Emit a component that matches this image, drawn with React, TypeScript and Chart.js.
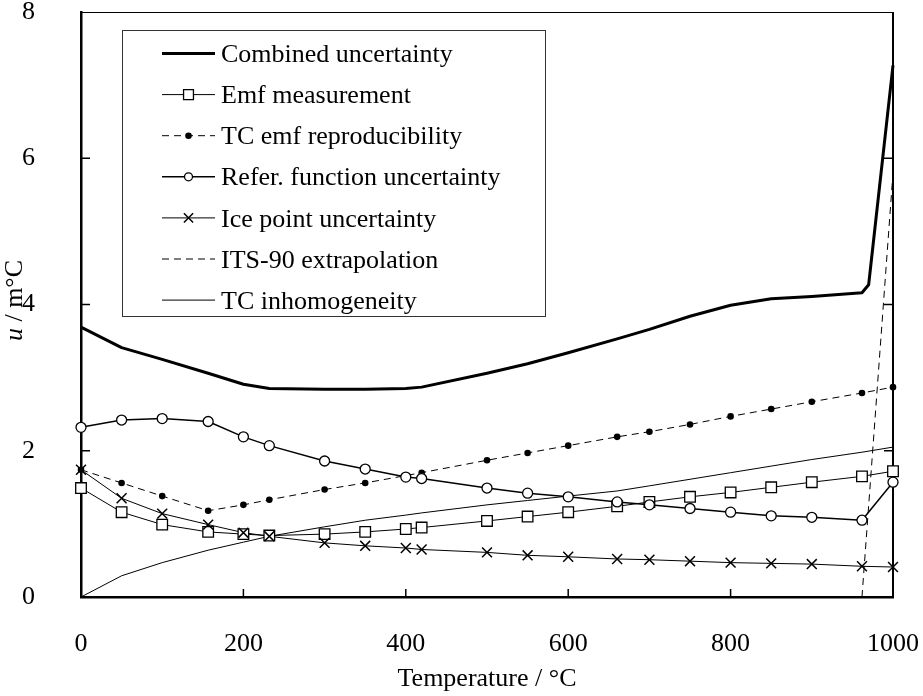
import React, { useEffect, useRef } from 'react';
import { Chart, registerables } from 'chart.js';

Chart.register(...registerables);

// ---- data ----
const temperatures = [0, 50, 100, 156.6, 200, 231.9, 300, 350, 400, 419.5, 500, 550, 600, 660.3, 700, 750, 800, 850, 900, 961.8, 1000];

const combinedTemps = [0, 50, 100, 156.6, 200, 231.9, 300, 350, 400, 419.5, 500, 550, 600, 660.3, 700, 750, 800, 850, 900, 961.8, 970, 1000];
const combinedValues = [3.69, 3.41, 3.25, 3.06, 2.91, 2.85, 2.84, 2.84, 2.85, 2.87, 3.06, 3.19, 3.34, 3.53, 3.66, 3.84, 3.99, 4.08, 4.11, 4.16, 4.27, 7.27];

const emfValues = [1.49, 1.16, 0.99, 0.89, 0.86, 0.84, 0.86, 0.89, 0.93, 0.95, 1.04, 1.10, 1.16, 1.24, 1.30, 1.37, 1.43, 1.50, 1.57, 1.65, 1.72];
const reproValues = [1.74, 1.56, 1.38, 1.18, 1.26, 1.33, 1.47, 1.56, 1.66, 1.70, 1.87, 1.97, 2.07, 2.19, 2.26, 2.36, 2.47, 2.57, 2.67, 2.79, 2.87];
const refFnValues = [2.32, 2.42, 2.44, 2.40, 2.19, 2.07, 1.86, 1.75, 1.64, 1.62, 1.49, 1.42, 1.37, 1.30, 1.26, 1.21, 1.16, 1.11, 1.09, 1.05, 1.57];
const iceValues = [1.74, 1.35, 1.14, 0.99, 0.88, 0.83, 0.74, 0.70, 0.67, 0.65, 0.61, 0.57, 0.55, 0.52, 0.51, 0.49, 0.47, 0.46, 0.45, 0.42, 0.41];
const its90Temps = [961.8, 1000];
const its90Values = [0, 5.8];
const inhomValues = [0, 0.29, 0.47, 0.64, 0.75, 0.83, 0.96, 1.05, 1.12, 1.15, 1.26, 1.32, 1.38, 1.45, 1.52, 1.61, 1.70, 1.79, 1.88, 1.98, 2.05];

const legendLabels = [
  'Combined uncertainty',
  'Emf measurement',
  'TC emf reproducibility',
  'Refer. function uncertainty',
  'Ice point uncertainty',
  'ITS-90 extrapolation',
  'TC inhomogeneity',
];

const xTickValues = [0, 200, 400, 600, 800, 1000];
const yTickValues = [0, 2, 4, 6, 8];
const xTitle = 'Temperature / °C';
const yTitleItalic = 'u';
const yTitleRest = ' / m°C';

const FONT_FAMILY = '"Liberation Serif", "Times New Roman", serif';
const FONT_SIZE = 26;

const pts = (xs: number[], ys: number[]) => xs.map((x, i) => ({ x, y: ys[i] }));

type Marker = 'none' | 'rect' | 'circle' | 'dot' | 'crossRot';

function drawMarker(ctx: CanvasRenderingContext2D, style: Marker, x: number, y: number, r: number, bw: number) {
  if (style === 'none') return;
  ctx.save();
  ctx.setLineDash([]);
  ctx.lineWidth = bw;
  ctx.strokeStyle = '#000';
  ctx.beginPath();
  if (style === 'rect') {
    const s = r * Math.SQRT1_2;
    ctx.fillStyle = '#fff';
    ctx.rect(x - s, y - s, 2 * s, 2 * s);
    ctx.fill();
    ctx.stroke();
  } else if (style === 'circle') {
    ctx.fillStyle = '#fff';
    ctx.arc(x, y, r, 0, Math.PI * 2);
    ctx.fill();
    ctx.stroke();
  } else if (style === 'dot') {
    ctx.fillStyle = '#000';
    ctx.arc(x, y, r, 0, Math.PI * 2);
    ctx.fill();
  } else if (style === 'crossRot') {
    const s = r * Math.SQRT1_2;
    ctx.moveTo(x - s, y - s);
    ctx.lineTo(x + s, y + s);
    ctx.moveTo(x - s, y + s);
    ctx.lineTo(x + s, y - s);
    ctx.stroke();
  }
  ctx.restore();
}

interface SeriesStyle {
  lineWidth: number;
  dash: number[];
  marker: Marker;
  radius: number;
  markerWidth: number;
}

const seriesStyles: SeriesStyle[] = [
  { lineWidth: 3, dash: [], marker: 'none', radius: 0, markerWidth: 0 },
  { lineWidth: 1, dash: [], marker: 'rect', radius: 7.5, markerWidth: 1.3 },
  { lineWidth: 1, dash: [7, 5], marker: 'dot', radius: 3.3, markerWidth: 1 },
  { lineWidth: 1.5, dash: [], marker: 'circle', radius: 5, markerWidth: 1.3 },
  { lineWidth: 1, dash: [], marker: 'crossRot', radius: 7, markerWidth: 1.5 },
  { lineWidth: 1, dash: [7, 5], marker: 'none', radius: 0, markerWidth: 0 },
  { lineWidth: 1, dash: [], marker: 'none', radius: 0, markerWidth: 0 },
];

const seriesData = [
  pts(combinedTemps, combinedValues),
  pts(temperatures, emfValues),
  pts(temperatures, reproValues),
  pts(temperatures, refFnValues),
  pts(temperatures, iceValues),
  pts(its90Temps, its90Values),
  pts(temperatures, inhomValues),
];

const decorPlugin = {
  id: 'decor',
  beforeDatasetsDraw(chart: any) {
    const { ctx, chartArea: ca, scales } = chart;
    const xs = scales.x;
    const ys = scales.y;
    ctx.save();
    ctx.strokeStyle = '#000';
    // top frame
    ctx.lineWidth = 1;
    ctx.beginPath();
    ctx.moveTo(ca.left, Math.round(ca.top) + 0.5);
    ctx.lineTo(ca.right, Math.round(ca.top) + 0.5);
    ctx.stroke();
    // right frame
    ctx.lineWidth = 2;
    ctx.beginPath();
    ctx.moveTo(ca.right, ca.top);
    ctx.lineTo(ca.right, ca.bottom);
    ctx.stroke();
    // inward ticks
    ctx.lineWidth = 1.5;
    for (const v of yTickValues) {
      if (v === yTickValues[0] || v === yTickValues[yTickValues.length - 1]) continue;
      const py = ys.getPixelForValue(v);
      ctx.beginPath();
      ctx.moveTo(ca.left, py);
      ctx.lineTo(ca.left + 9, py);
      ctx.moveTo(ca.right, py);
      ctx.lineTo(ca.right - 9, py);
      ctx.stroke();
    }
    for (const v of xTickValues) {
      if (v === xTickValues[0] || v === xTickValues[xTickValues.length - 1]) continue;
      const px = xs.getPixelForValue(v);
      ctx.beginPath();
      ctx.moveTo(px, ca.bottom);
      ctx.lineTo(px, ca.bottom - 8);
      ctx.stroke();
    }
    ctx.restore();
  },
  afterDatasetsDraw(chart: any) {
    const { ctx, chartArea: ca } = chart;
    // markers
    chart.data.datasets.forEach((ds: any, i: number) => {
      const st = seriesStyles[i];
      if (st.marker === 'none') return;
      const meta = chart.getDatasetMeta(i);
      meta.data.forEach((el: any) => {
        drawMarker(ctx, st.marker, el.x, el.y, st.radius, st.markerWidth);
      });
    });
    // y title (mixed italic)
    ctx.save();
    ctx.translate(15, (ca.top + ca.bottom) / 2 - 4);
    ctx.rotate(-Math.PI / 2);
    const fItalic = `italic ${FONT_SIZE}px ${FONT_FAMILY}`;
    const fNormal = `${FONT_SIZE}px ${FONT_FAMILY}`;
    ctx.font = fItalic;
    const w1 = ctx.measureText(yTitleItalic).width;
    ctx.font = fNormal;
    const w2 = ctx.measureText(yTitleRest).width;
    const x0 = -(w1 + w2) / 2;
    ctx.fillStyle = '#000';
    ctx.textAlign = 'left';
    ctx.textBaseline = 'middle';
    ctx.font = fItalic;
    ctx.fillText(yTitleItalic, x0, 0);
    ctx.font = fNormal;
    ctx.fillText(yTitleRest, x0 + w1, 0);
    ctx.restore();

    // legend box
    const bx = ca.left + 41;
    const by = ca.top + 18;
    const bw = 423;
    const bh = 286;
    ctx.save();
    ctx.fillStyle = '#fff';
    ctx.fillRect(bx, by, bw, bh);
    ctx.strokeStyle = '#333';
    ctx.lineWidth = 1;
    ctx.strokeRect(Math.round(bx) + 0.5, Math.round(by) + 0.5, bw, bh);
    const rowStart = by + 23.5;
    const rowGap = 41.1;
    const lx1 = bx + 40;
    const lx2 = bx + 93;
    const tx = bx + 99;
    legendLabels.forEach((label, i) => {
      const st = seriesStyles[i];
      const y = rowStart + i * rowGap;
      ctx.save();
      ctx.strokeStyle = '#000';
      ctx.lineWidth = st.lineWidth;
      ctx.setLineDash(st.dash);
      ctx.beginPath();
      ctx.moveTo(lx1, y);
      ctx.lineTo(lx2, y);
      ctx.stroke();
      ctx.restore();
      const r = st.marker === 'rect' ? 7 : st.marker === 'circle' ? 4 : st.marker === 'crossRot' ? 6.5 : st.radius;
      drawMarker(ctx, st.marker, (lx1 + lx2) / 2, y, r, st.markerWidth);
      ctx.fillStyle = '#000';
      ctx.font = fNormal;
      ctx.textAlign = 'left';
      ctx.textBaseline = 'alphabetic';
      ctx.fillText(label, tx, y + 8.6);
    });
    ctx.restore();
  },
};

const zeroPadding = (scale: any) => {
  scale.paddingTop = 0;
  scale.paddingBottom = 0;
  scale.paddingLeft = 0;
  scale.paddingRight = 0;
};

export default function App() {
  const canvasRef = useRef<HTMLCanvasElement | null>(null);

  useEffect(() => {
    const canvas = canvasRef.current;
    if (!canvas) return;
    const datasets = seriesData.map((data, i) => {
      const st = seriesStyles[i];
      return {
        label: legendLabels[i],
        data,
        borderColor: '#000',
        backgroundColor: '#000',
        borderWidth: st.lineWidth,
        borderDash: st.dash,
        borderJoinStyle: 'round' as const,
        pointRadius: 0,
        pointHoverRadius: 0,
        tension: 0,
        fill: false,
        clip: false as const,
      };
    });

    const chart = new Chart(canvas, {
      type: 'line',
      data: { datasets },
      options: {
        animation: false,
        responsive: false,
        devicePixelRatio: 1,
        events: [],
        layout: { padding: { top: 12, right: 30, left: 0, bottom: 0 } },
        plugins: {
          legend: { display: false },
          tooltip: { enabled: false },
          title: { display: false },
        },
        scales: {
          x: {
            type: 'linear',
            min: xTickValues[0],
            max: xTickValues[xTickValues.length - 1],
            afterBuildTicks: (scale: any) => {
              scale.ticks = xTickValues.map((v) => ({ value: v }));
            },
            afterFit: (scale: any) => {
              scale.height = 99;
              zeroPadding(scale);
            },
            grid: { display: false },
            border: { display: true, color: '#000', width: 2.5 },
            ticks: {
              color: '#000',
              padding: 24,
              maxRotation: 0,
              autoSkip: false,
              font: { family: FONT_FAMILY, size: FONT_SIZE },
              callback: (v: any) => String(v),
            },
            title: {
              display: true,
              text: xTitle,
              color: '#000',
              padding: { top: 0, bottom: 1 },
              font: { family: FONT_FAMILY, size: FONT_SIZE },
            },
          },
          y: {
            type: 'linear',
            min: yTickValues[0],
            max: yTickValues[yTickValues.length - 1],
            afterBuildTicks: (scale: any) => {
              scale.ticks = yTickValues.map((v) => ({ value: v }));
            },
            afterFit: (scale: any) => {
              scale.width = 81;
              zeroPadding(scale);
            },
            grid: { display: false },
            border: { display: true, color: '#000', width: 2.5 },
            ticks: {
              color: '#000',
              padding: 38,
              autoSkip: false,
              font: { family: FONT_FAMILY, size: FONT_SIZE },
              callback: (v: any) => String(v),
            },
          },
        },
      },
      plugins: [decorPlugin],
    } as any);

    return () => {
      chart.destroy();
    };
  }, []);

  return (
    <div style={{ position: 'fixed', left: 0, top: 0, width: 923, height: 696, background: '#fff' }}>
      <canvas ref={canvasRef} width={923} height={696} style={{ width: 923, height: 696, display: 'block' }} />
    </div>
  );
}
